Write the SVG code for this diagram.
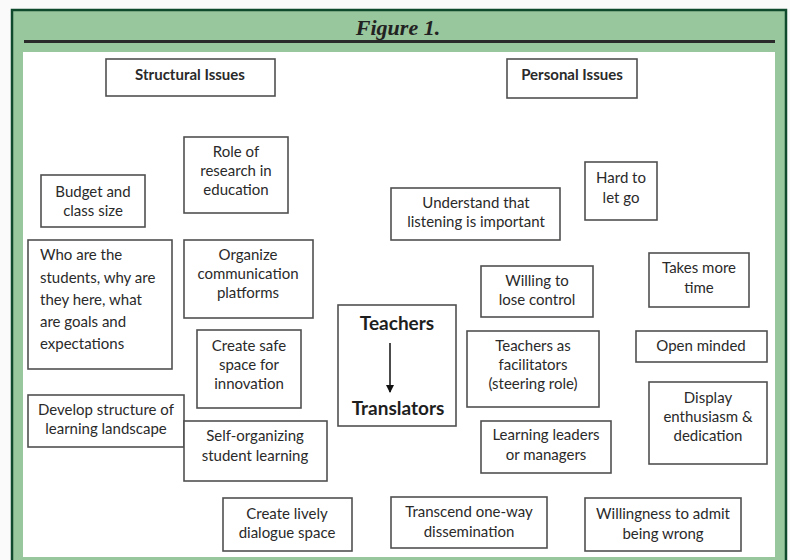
<svg xmlns="http://www.w3.org/2000/svg" width="790" height="560" viewBox="0 0 790 560">
<style>
.box{fill:#fff;stroke:#505050;stroke-width:1.6}
.t{font-family:Lato,"Liberation Sans",sans-serif;font-size:15px;fill:#2a2a2a;text-anchor:middle}
.l{text-anchor:start}
.b{font-weight:bold}
.big{font-family:Lato,"Liberation Sans",sans-serif;font-weight:bold;font-size:19px;fill:#1e1e1e;text-anchor:middle}
</style>
<defs>
<marker id="ah" markerWidth="8" markerHeight="10" refX="7" refY="5" orient="auto" markerUnits="userSpaceOnUse">
<path d="M0,1 L8,5 L0,9 Z" fill="#111"/>
</marker>
</defs>
<rect x="0" y="0" width="790" height="560" fill="#fafafa"/>
<rect x="12" y="10" width="774" height="552" fill="#98c69d" stroke="#0f4a2c" stroke-width="2.5"/>
<text x="398" y="35" font-family="'Liberation Serif',serif" font-weight="bold" font-style="italic" font-size="22" fill="#222" text-anchor="middle">Figure 1.</text>
<line x1="24" y1="41.5" x2="775" y2="41.5" stroke="#2a2a2a" stroke-width="3"/>
<rect x="23" y="52" width="752" height="505" fill="#fff"/>

<g id="structural"><rect class="box" x="106" y="59" width="169" height="37"/><text class="t b" x="190" y="80">Structural Issues</text></g>
<g id="personal"><rect class="box" x="507" y="59" width="130" height="39"/><text class="t b" x="572" y="80">Personal Issues</text></g>
<g id="role"><rect class="box" x="184" y="137" width="104" height="76"/><text class="t" x="236" y="157">Role of</text><text class="t" x="236" y="176">research in</text><text class="t" x="236" y="195">education</text></g>
<g id="budget"><rect class="box" x="41" y="175" width="104" height="52"/><text class="t" x="93" y="197">Budget and</text><text class="t" x="93" y="216">class size</text></g>
<g id="understand"><rect class="box" x="391" y="188" width="169" height="52"/><text class="t" x="476" y="208">Understand that</text><text class="t" x="476" y="227">listening is important</text></g>
<g id="hard"><rect class="box" x="585" y="162" width="72" height="58"/><text class="t" x="621" y="183">Hard to</text><text class="t" x="621" y="203">let go</text></g>
<g id="who"><rect class="box" x="28" y="240" width="144" height="129"/><text class="t l" x="40" y="260">Who are the</text><text class="t l" x="40" y="283">students, why are</text><text class="t l" x="40" y="305">they here, what</text><text class="t l" x="40" y="327">are goals and</text><text class="t l" x="40" y="349">expectations</text></g>
<g id="organize"><rect class="box" x="184" y="240" width="129" height="78"/><text class="t" x="248" y="260">Organize</text><text class="t" x="248" y="279">communication</text><text class="t" x="248" y="298">platforms</text></g>
<g id="safe"><rect class="box" x="197" y="330" width="104" height="78"/><text class="t" x="249" y="351">Create safe</text><text class="t" x="249" y="370">space for</text><text class="t" x="249" y="389">innovation</text></g>
<g id="teachers"><rect class="box" x="338" y="305" width="118" height="121"/><text class="big" x="397" y="330">Teachers</text><text class="big" x="398" y="415">Translators</text></g>
<g id="willing"><rect class="box" x="481" y="266" width="112" height="51"/><text class="t" x="537" y="286">Willing to</text><text class="t" x="537" y="305">lose control</text></g>
<g id="takes"><rect class="box" x="649" y="253" width="100" height="54"/><text class="t" x="699" y="273">Takes more</text><text class="t" x="699" y="293">time</text></g>
<g id="facilitators"><rect class="box" x="467" y="331" width="132" height="76"/><text class="t" x="533" y="351">Teachers as</text><text class="t" x="533" y="370">facilitators</text><text class="t" x="533" y="389">(steering role)</text></g>
<g id="open"><rect class="box" x="636" y="331" width="131" height="31"/><text class="t" x="701" y="351">Open minded</text></g>
<g id="display"><rect class="box" x="649" y="382" width="118" height="82"/><text class="t" x="708" y="403">Display</text><text class="t" x="708" y="422">enthusiasm &amp;</text><text class="t" x="708" y="441">dedication</text></g>
<g id="develop"><rect class="box" x="28" y="395" width="156" height="52"/><text class="t" x="106" y="415">Develop structure of</text><text class="t" x="106" y="434">learning landscape</text></g>
<g id="selforg"><rect class="box" x="184" y="421" width="143" height="60"/><text class="t" x="255" y="441">Self-organizing</text><text class="t" x="255" y="461">student learning</text></g>
<g id="leaders"><rect class="box" x="481" y="421" width="130" height="52"/><text class="t" x="546" y="440">Learning leaders</text><text class="t" x="546" y="460">or managers</text></g>
<g id="lively"><rect class="box" x="223" y="498" width="129" height="53"/><text class="t" x="287" y="519">Create lively</text><text class="t" x="287" y="538">dialogue space</text></g>
<g id="transcend"><rect class="box" x="391" y="497" width="156" height="51"/><text class="t" x="469" y="517">Transcend one-way</text><text class="t" x="469" y="537">dissemination</text></g>
<g id="willingness"><rect class="box" x="585" y="498" width="156" height="53"/><text class="t" x="663" y="519">Willingness to admit</text><text class="t" x="663" y="539">being wrong</text></g>

<g id="connectors">
<line x1="390" y1="343" x2="390" y2="392" stroke="#111" stroke-width="1.5" marker-end="url(#ah)"/>
</g>
</svg>
